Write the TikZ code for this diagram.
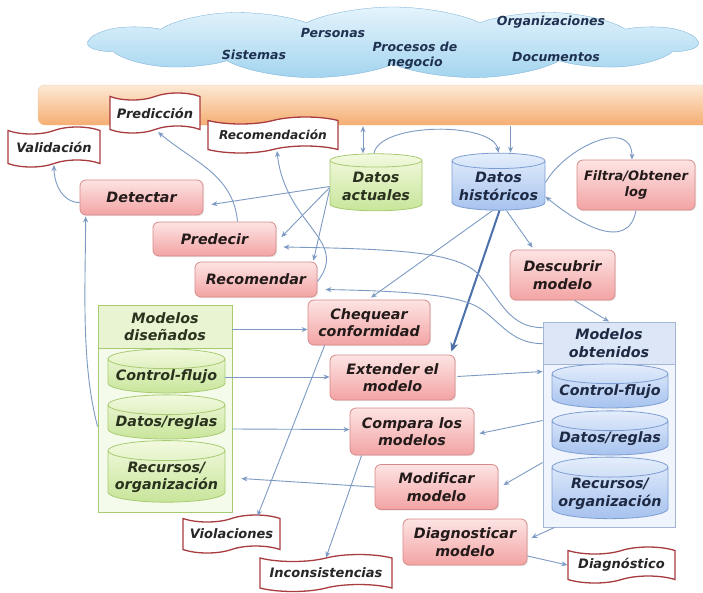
\documentclass[tikz,border=0pt]{standalone}
\usepackage{fontspec}
\setmainfont{DejaVu Sans}[BoldFont={DejaVu Sans Bold},ItalicFont={DejaVu Sans Oblique},BoldItalicFont={DejaVu Sans Bold Oblique}]
\usetikzlibrary{shapes.geometric,shapes.symbols,arrows.meta,shadows,calc}

\definecolor{tasktop}{HTML}{FDE4E4}
\definecolor{taskbot}{HTML}{F3A3A3}
\definecolor{taskline}{HTML}{D88A8A}
\definecolor{taskink}{HTML}{231A1A}
\definecolor{docline}{HTML}{A83C40}
\definecolor{docink}{HTML}{262626}
\definecolor{gtop}{HTML}{F2FADF}
\definecolor{gbot}{HTML}{C8E59A}
\definecolor{gline}{HTML}{A8CB72}
\definecolor{gink}{HTML}{2A321E}
\definecolor{gfill}{HTML}{F5FBEA}
\definecolor{ghead}{HTML}{E9F4D3}
\definecolor{btop}{HTML}{E4EEFC}
\definecolor{bbot}{HTML}{A6C2EE}
\definecolor{bline}{HTML}{7E9ED3}
\definecolor{bink}{HTML}{1E2944}
\definecolor{bfill}{HTML}{F0F4FC}
\definecolor{bhead}{HTML}{DCE6F7}
\definecolor{bcline}{HTML}{A4B6D6}
\definecolor{skytop}{HTML}{E4F4FC}
\definecolor{skybot}{HTML}{A3D4EF}
\definecolor{skyline}{HTML}{72AAD5}
\definecolor{skyink}{HTML}{1E3150}
\definecolor{bandtop}{HTML}{FDE9D4}
\definecolor{bandbot}{HTML}{F5AE72}
\definecolor{bandline}{HTML}{F0C8A0}
\definecolor{connc}{HTML}{7C9AC3}
\definecolor{mainc}{HTML}{4C71AA}

\tikzset{
  lbl/.style={font=\fontsize{14.3}{17.5}\selectfont\bfseries\itshape, align=center},
  task/.style={lbl, rectangle, rounded corners=6pt, draw=taskline, line width=0.8pt,
    top color=tasktop, bottom color=taskbot, text=taskink, inner sep=1pt,
    drop shadow={opacity=0.18, shadow xshift=1.2pt, shadow yshift=-1.2pt}},
  docu/.style={font=\fontsize{13}{15}\selectfont\bfseries\itshape, tape,
    tape bend top=in and out, tape bend bottom=in and out, tape bend height=7pt,
    draw=docline, line width=1.3pt, fill=white, text=docink, inner sep=1pt},
  gdb/.style={lbl, cylinder, shape border rotate=90, aspect=0.19, draw=gline, line width=0.8pt,
    top color=gtop, bottom color=gbot, text=gink, inner sep=1pt},
  bdb/.style={lbl, cylinder, shape border rotate=90, aspect=0.19, draw=bline, line width=0.8pt,
    top color=btop, bottom color=bbot, text=bink, inner sep=1pt},
  gbox/.style={rectangle, draw=gline, line width=0.8pt, fill=gfill, inner sep=0pt},
  ghd/.style={lbl, rectangle, draw=gline, line width=0.8pt, fill=ghead, text=gink, inner sep=0pt},
  bbox/.style={rectangle, draw=bcline, line width=0.8pt, fill=bfill, inner sep=0pt},
  bhd/.style={lbl, rectangle, draw=bcline, line width=0.8pt, fill=bhead, text=bink, inner sep=0pt},
  skytext/.style={font=\fontsize{12.5}{15}\selectfont\bfseries\itshape, text=skyink, align=center, inner sep=0pt},
  conn/.style={draw=connc, line width=0.9pt, -{Stealth[length=6pt,width=5pt]}},
  conn2/.style={draw=connc, line width=0.9pt, {Stealth[length=6pt,width=5pt]}-{Stealth[length=6pt,width=5pt]}},
  mainflow/.style={draw=mainc, line width=2pt, -{Stealth[length=9pt,width=8pt]}},
}

\begin{document}
\begin{tikzpicture}[x=1pt,y=-1pt]
\useasboundingbox (0,0) rectangle (703,592);
\fill[white] (0,0) rectangle (703,592);

% sources of the event data: a cloud stretched sideways
\node[cloud, cloud puffs=11, cloud puff arc=115, cloud ignores aspect,
      minimum width=203pt, minimum height=72pt, xscale=3, transform shape,
      draw=skyline, line width=0.3pt,
      top color=skytop, bottom color=skybot] (sky) at (393,43) {};
\node[skytext] (pers) at (333,33) {Personas};
\node[skytext] (orgs) at (551,22) {Organizaciones};
\node[skytext] (sist) at (254,55) {Sistemas};
\node[skytext] (proc) at (415,56) {Procesos de\\negocio};
\node[skytext] (docs) at (556,57) {Documentos};

% information system band
\node[rectangle, rounded corners=7pt, minimum width=674pt, minimum height=40pt,
      top color=bandtop, bottom color=bandbot, draw=bandline, line width=0.4pt] (bar) at (375,105) {};

% data stores
\node[gdb, minimum width=92pt, minimum height=57pt] (datact) at (376,186.5) {Datos\\actuales};
\node[bdb, minimum width=93pt, minimum height=57pt] (dathist) at (498.5,186.5) {Datos\\históricos};

% designed models
\node[gbox, minimum width=134pt, minimum height=207pt] (mdis) at (165,408.5) {};
\node[ghd, minimum width=134pt, minimum height=43pt] (mdishead) at (165,326.5) {Modelos\\diseñados};
\node[gdb, minimum width=117pt, minimum height=40pt] (gcf) at (166.5,377) {Control-flujo};
\node[gdb, minimum width=117pt, minimum height=40pt] (gdr) at (166.5,423) {Datos/reglas};
\node[gdb, minimum width=117pt, minimum height=55pt] (grec) at (166.5,477.5) {Recursos/\\organización};

% discovered models
\node[bbox, minimum width=132pt, minimum height=205pt] (mobt) at (609,424.5) {};
\node[bhd, minimum width=132pt, minimum height=42pt] (mobthead) at (609,343) {Modelos\\obtenidos};
\node[bdb, minimum width=116pt, minimum height=40pt] (ocf) at (610,392) {Control-flujo};
\node[bdb, minimum width=116pt, minimum height=38pt] (odr) at (610,439) {Datos/reglas};
\node[bdb, minimum width=116pt, minimum height=52pt] (orec) at (610,494) {Recursos/\\organización};

% activities
\node[task, minimum width=123pt, minimum height=35pt] (detectar) at (141.5,197.5) {Detectar};
\node[task, minimum width=123pt, minimum height=34pt] (predecir) at (214.5,239) {Predecir};
\node[task, minimum width=122pt, minimum height=35pt] (recomendar) at (256,279.5) {Recomendar};
\node[task, minimum width=122pt, minimum height=45pt] (chequear) at (369,322.5) {Chequear\\conformidad};
\node[task, minimum width=125pt, minimum height=45pt] (extender) at (392.5,377.5) {Extender el\\modelo};
\node[task, minimum width=124pt, minimum height=47pt] (compara) at (412,431.5) {Compara los\\modelos};
\node[task, minimum width=123pt, minimum height=45pt] (modificar) at (436.5,487) {Modificar\\modelo};
\node[task, minimum width=124pt, minimum height=46pt] (diagnosticar) at (465,542) {Diagnosticar\\modelo};
\node[task, minimum width=105pt, minimum height=50pt] (descubrir) at (562.5,275) {Descubrir\\modelo};
\node[task, minimum width=118pt, minimum height=50pt, font=\fontsize{13}{16.5}\selectfont\bfseries\itshape] (filtra) at (636,185) {Filtra/Obtener\\log};

% results
\node[docu, minimum width=90pt, minimum height=40pt] (prediccion) at (155,113) {Predicción};
\node[docu, minimum width=92pt, minimum height=40pt] (validacion) at (54,147) {Validación};
\node[docu, minimum width=130pt, minimum height=36pt, font=\fontsize{12.2}{15}\selectfont\bfseries\itshape] (recomendacion) at (273,135) {Recomendación};
\node[docu, minimum width=97pt, minimum height=38pt] (violaciones) at (231.5,534) {Violaciones};
\node[docu, minimum width=132pt, minimum height=37pt] (inconsistencias) at (326,573) {Inconsistencias};
\node[docu, minimum width=107pt, minimum height=36pt] (diagnostico) at (621.5,565) {Diagnóstico};

% connectors
\draw[conn2] ($(datact.north)+(-13,0)$) -- ($(datact.north |- bar.south)+(-13,1)$);
\draw[conn] ($(dathist.north |- bar.south)+(12,1)$) -- ($(dathist.north)+(12,0)$);
\draw[conn] ($(datact.north)+(-2,0)$) to[out=80,in=100,looseness=0.65] (dathist.north);
\draw[conn] ($(dathist.east)+(0,-4)$) to[out=60,in=90,looseness=1.2] ($(filtra.north)+(-4,0)$);
\draw[conn] (filtra.south) to[out=-100,in=-40,looseness=1.2] ($(dathist.east)+(0,10)$);

\draw[conn] (datact.west) -- ($(detectar.east)+(8,7)$);
\draw[conn] ($(datact.west)+(0,1)$) -- ($(predecir.east)+(5,-2)$);
\draw[conn] ($(datact.west)+(0,3)$) -- ($(recomendar.north east)+(-4,-1)$);
\draw[conn] ($(predecir.north)+(23,0)$) to[out=95,in=-40] ($(prediccion.south)+(3,2)$);
\draw[conn] ($(recomendar.east)+(0,2)$) .. controls (350,240) and (285,225) .. ($(recomendacion.south)+(4,1)$);
\draw[conn] ($(detectar.west)+(0,5)$) to[out=180,in=-90] ($(validacion.south)+(0,1)$);
\draw[conn] ($(mdis.west)+(0,18)$) to[out=105,in=-90,looseness=0.8] ($(detectar.south west)+(6,1)$);

\draw[conn] ($(dathist.south)+(-6,0)$) -- ($(chequear.north)+(2,-2)$);
\draw[mainflow] ($(dathist.south)+(1,0)$) -- ($(extender.north east)+(-4,-3)$);
\draw[conn] ($(dathist.south)+(8,0)$) -- ($(descubrir.north)+(-30,-2)$);
\draw[conn] ($(descubrir.south)+(12,0)$) -- (mobt.north);

\draw[conn] ($(mdishead.east)+(0,3)$) -- ($(mdishead.east -| chequear.west)+(0,3)$);
\draw[conn] (gcf.east) -- (gcf.east -| extender.west);
\draw[conn] ($(gdr.east -| mdis.east)+(0,6)$) -- ($(compara.west)+(0,-2)$);
\draw[conn] (modificar.west) -- ($(mdis.east |- grec.east)+(9,1)$);

\draw[conn] ($(extender.east)+(2,-1)$) -- ($(mobt.west)+(0,-53)$);
\draw[conn] ($(mobt.west)+(0,-4)$) -- ($(compara.east)+(5,2)$);
\draw[conn] ($(mobt.west)+(0,38)$) -- ($(modificar.east)+(5,-2)$);
\draw[conn] ($(mobt.south west)+(12,0)$) -- ($(diagnosticar.east)+(4,-4)$);
\draw[conn] ($(diagnosticar.east)+(0,14)$) -- (diagnostico.west);

\draw[conn] ($(chequear.south west)+(17,0)$) -- ($(violaciones.north)+(26,-2)$);
\draw[conn] ($(compara.south west)+(12,0)$) -- (inconsistencias.north);

\draw[conn] ($(mobt.north west)+(0,6)$) .. controls (510,328) and (500,300) .. (480,276)
   .. controls (460,252) and (400,249) .. ($(predecir.east)+(7,8)$);
\draw[conn] ($(mobt.north west)+(0,22)$) .. controls (510,344) and (498,318) .. (476,306)
   .. controls (452,294) and (400,291) .. ($(recomendar.east)+(8,10)$);
\end{tikzpicture}
\end{document}
